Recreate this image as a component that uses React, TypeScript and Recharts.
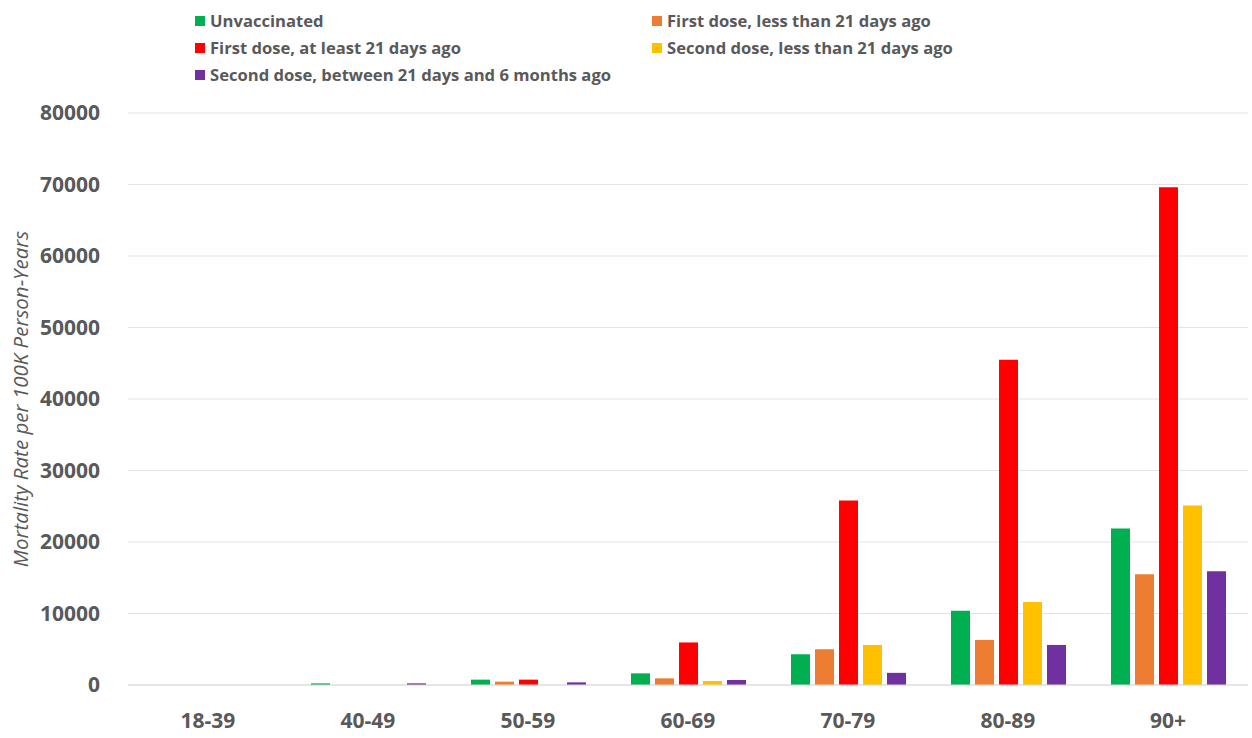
import { Bar, BarChart, CartesianGrid, XAxis, YAxis } from 'recharts'

const ageGroups = ['18-39', '40-49', '50-59', '60-69', '70-79', '80-89', '90+']
const unvaccinated = [0, 230, 750, 1630, 4300, 10400, 21900]
const firstDoseRecent = [0, 0, 470, 930, 5000, 6300, 15500]
const firstDoseOlder = [0, 0, 750, 5950, 25800, 45500, 69600]
const secondDoseRecent = [0, 0, 0, 560, 5600, 11600, 25100]
const secondDoseOlder = [0, 230, 370, 700, 1700, 5600, 15900]
const yTicks = [0, 10000, 20000, 30000, 40000, 50000, 60000, 70000, 80000]

const series = [
  { key: 'unvaccinated', name: 'Unvaccinated', color: '#00B050' },
  { key: 'firstDoseRecent', name: 'First dose, less than 21 days ago', color: '#ED7D31' },
  { key: 'firstDoseOlder', name: 'First dose, at least 21 days ago', color: '#FF0000' },
  { key: 'secondDoseRecent', name: 'Second dose, less than 21 days ago', color: '#FFC000' },
  { key: 'secondDoseOlder', name: 'Second dose, between 21 days and 6 months ago', color: '#7030A0' },
]

const data = ageGroups.map((age, i) => ({
  age,
  unvaccinated: unvaccinated[i],
  firstDoseRecent: firstDoseRecent[i],
  firstDoseOlder: firstDoseOlder[i],
  secondDoseRecent: secondDoseRecent[i],
  secondDoseOlder: secondDoseOlder[i],
}))

const textColor = '#595959'
const font = '"Open Sans", sans-serif'

// legend sits above the plot as plain html, two columns like the original
function ChartLegend() {
  return (
    <div
      style={{
        position: 'absolute',
        top: 11,
        left: 195,
        display: 'grid',
        gridTemplateColumns: '457px auto',
        rowGap: 8,
        fontFamily: font,
        fontSize: 16.6,
        fontWeight: 700,
        color: textColor,
        lineHeight: '19px',
      }}
    >
      {series.map((s) => (
        <div key={s.key} style={{ display: 'flex', alignItems: 'center', whiteSpace: 'nowrap' }}>
          <span style={{ width: 10, height: 10, background: s.color, marginRight: 5, display: 'inline-block' }} />
          {s.name}
        </div>
      ))}
    </div>
  )
}

function AxisTitle({ viewBox }: any) {
  const cx = 20
  const cy = viewBox.y + viewBox.height / 2
  return (
    <text
      x={cx}
      y={cy}
      transform={`rotate(-90, ${cx}, ${cy})`}
      textAnchor="middle"
      dominantBaseline="central"
      fill={textColor}
      fontFamily={font}
      fontSize={20.5}
      fontStyle="italic"
    >
      Mortality Rate per 100K Person-Years
    </text>
  )
}

export default function App() {
  return (
    <div style={{ position: 'absolute', left: 0, top: 0, width: 1252, height: 738, background: '#fff' }}>
      <ChartLegend />
      <BarChart
        width={1252}
        height={738}
        data={data}
        margin={{ top: 113, right: 4, bottom: 0, left: 0 }}
        barSize={19}
        barGap={5}
      >
        <CartesianGrid vertical={false} stroke="#E3E3E3" />
        <XAxis
          dataKey="age"
          height={53}
          axisLine={{ stroke: '#D9D9D9' }}
          tickLine={false}
          tickSize={6}
          tickMargin={22}
          tick={{ fill: textColor, fontFamily: font, fontSize: 21, fontWeight: 700 }}
        />
        <YAxis
          width={128}
          domain={[0, 80000]}
          ticks={yTicks}
          axisLine={false}
          tickLine={false}
          tickSize={6}
          tickMargin={22}
          tick={{ fill: textColor, fontFamily: font, fontSize: 21, fontWeight: 700 }}
          label={{ content: AxisTitle }}
        />
        {series.map((s) => (
          <Bar key={s.key} dataKey={s.key} name={s.name} fill={s.color} isAnimationActive={false} />
        ))}
      </BarChart>
    </div>
  )
}
